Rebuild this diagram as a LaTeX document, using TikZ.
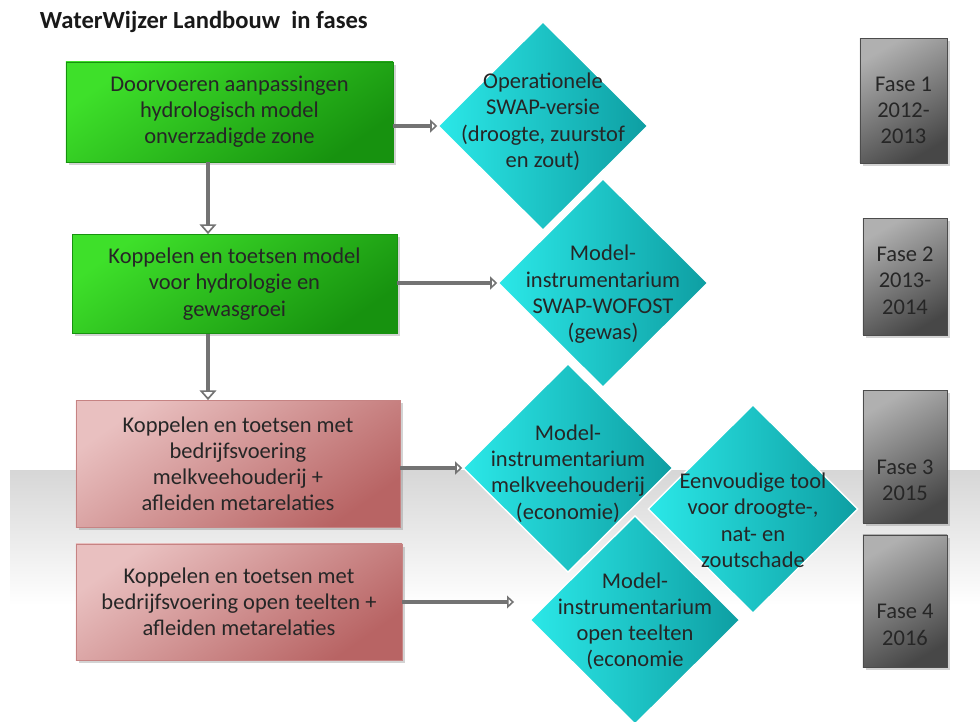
\documentclass[tikz,border=0pt]{standalone}
\usepackage{fontspec}
\setmainfont{Carlito}
\usetikzlibrary{shapes.geometric, shadows, arrows.meta}

\definecolor{groenlicht}{HTML}{3EE02A}
\definecolor{groendonker}{HTML}{17920F}
\definecolor{roodlicht}{HTML}{E9C0C0}
\definecolor{rooddonker}{HTML}{B86464}
\definecolor{cyaanlicht}{HTML}{2BE8E8}
\definecolor{cyaandonker}{HTML}{0E9EA2}
\definecolor{grijslicht}{HTML}{B0B0B0}
\definecolor{grijsdonker}{HTML}{474747}

\begin{document}
\begin{tikzpicture}[x=0.025cm, y=-0.025cm,
  every node/.style={font=\fontsize{16}{18.6}\selectfont, text=black!85, align=center},
  schaduw/.style={drop shadow={opacity=0.35, shadow xshift=2pt, shadow yshift=-2pt}},
  greenbox/.style={rectangle, draw=groendonker, top color=groenlicht, bottom color=groendonker, shading angle=35, schaduw},
  redbox/.style={rectangle, draw=rooddonker!80, top color=roodlicht, bottom color=rooddonker, shading angle=35, schaduw},
  fasebox/.style={rectangle, draw=gray!60!black, top color=grijslicht, bottom color=grijsdonker, shading angle=30, schaduw, minimum width=2.1cm, font=\fontsize{17}{19.5}\selectfont},
  ruit/.style={diamond, draw=white, line width=1pt, left color=cyaanlicht, right color=cyaandonker, minimum width=5.25cm, minimum height=5.22cm, inner sep=0pt},
  pijl/.style={draw=gray!90!black, line width=3.5pt, -{Triangle[open, width=9pt, length=5pt, line width=1.1pt]}},
  pijlneer/.style={pijl, -{Triangle[open, width=12pt, length=7pt, line width=1.2pt]}}
]

\useasboundingbox (0,0) rectangle (980,722);
\shade[top color=gray!32, bottom color=white] (10,470) rectangle (980,605);

\node[anchor=west, font=\fontsize{17.5}{20}\selectfont\bfseries, text=black!90] (titel) at (35,22) {WaterWijzer Landbouw\ \ in fases};

\node[greenbox, minimum width=8.18cm, minimum height=2.5cm] (b1) at (229.5,112) {Doorvoeren aanpassingen\\hydrologisch model\\onverzadigde zone};
\node[greenbox, minimum width=8.12cm, minimum height=2.48cm] (b2) at (234.5,284) {Koppelen en toetsen model\\voor hydrologie en\\gewasgroei};
\node[redbox, minimum width=8.1cm, minimum height=3.18cm] (b3) at (238,464) {Koppelen en toetsen met\\bedrijfsvoering\\melkveehouderij +\\afleiden metarelaties};
\node[redbox, minimum width=8.15cm, minimum height=2.9cm] (b4) at (239,602) {Koppelen en toetsen met\\bedrijfsvoering open teelten +\\afleiden metarelaties};

\node[ruit, label={[yshift=3pt]center:{Operationele\\SWAP-versie\\(droogte, zuurstof\\en zout)}}] (d1) at (543,126) {};
\node[ruit, label={[yshift=-8pt]center:{Model-\\instrumentarium\\SWAP-WOFOST\\(gewas)}}] (d2) at (603,283) {};
\node[ruit, label={[yshift=-4pt]center:{Model-\\instrumentarium\\melkveehouderij\\(economie)}}] (d3) at (568,468) {};
\node[ruit, label={[yshift=-8pt]center:{Eenvoudige tool\\voor droogte-,\\nat- en\\zoutschade}}] (d4) at (753,509) {};
\node[ruit, label={[yshift=-1pt]center:{Model-\\instrumentarium\\open teelten\\(economie}}] (d5) at (635,620) {};

\node[fasebox, minimum width=2.18cm, minimum height=3.12cm, label={[yshift=-7pt]center:{Fase 1\\2012-\\2013}}] (f1) at (903.5,100.5) {};
\node[fasebox, minimum height=2.92cm, label={[yshift=-3pt]center:{Fase 2\\2013-\\2014}}] (f2) at (905,276.5) {};
\node[fasebox, minimum height=3.32cm, label={[yshift=-17pt]center:{Fase 3\\2015}}] (f3) at (905,456.5) {};
\node[fasebox, minimum height=3.3cm, label={[yshift=-17pt]center:{Fase 4\\2016}}] (f4) at (905,601) {};

\coordinate (as) at (208,0);
\draw[pijlneer] (b1.south -| as) -- (b2.north -| as);
\draw[pijlneer] (b2.south -| as) -- (b3.north -| as);
\draw[pijl] (b1.east |- d1.west) -- (d1.west);
\draw[pijl] (b2.east |- d2.west) -- (d2.west);
\draw[pijl] (b3.east |- d3.west) -- (d3.west);
\draw[pijl, shorten >=0.38cm] (b4.east) -- (b4.east -| d5.west);

\end{tikzpicture}
\end{document}
